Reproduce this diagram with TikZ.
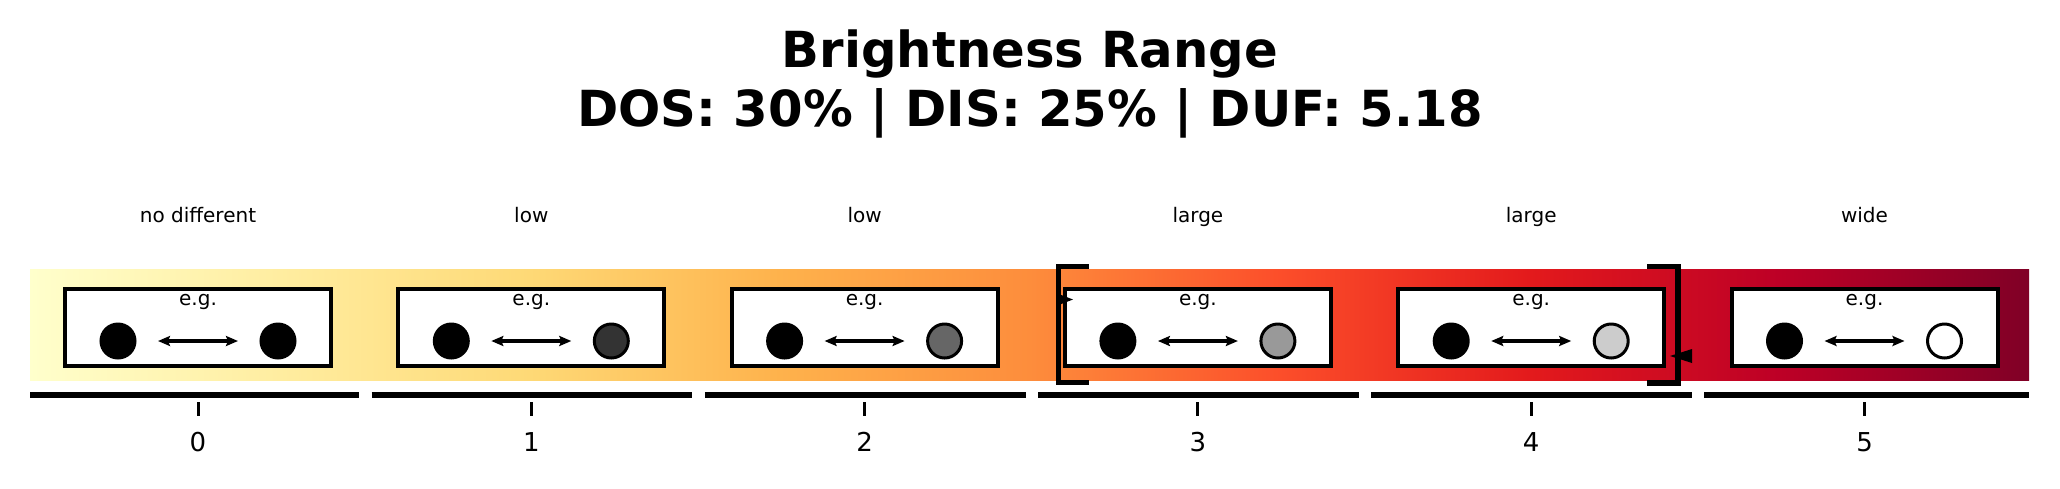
\documentclass[tikz,border=0pt]{standalone}
\usepackage{fontspec}
\setmainfont{DejaVu Sans}
\usepackage{tikz}
\usetikzlibrary{arrows.meta, positioning}
\definecolor{yl0}{HTML}{FFFFCC}
\definecolor{yl1}{HTML}{FFEDA0}
\definecolor{yl2}{HTML}{FED976}
\definecolor{yl3}{HTML}{FEB24C}
\definecolor{yl4}{HTML}{FD8D3C}
\definecolor{yl5}{HTML}{FC4E2A}
\definecolor{yl6}{HTML}{E31A1C}
\definecolor{yl7}{HTML}{BD0026}
\definecolor{yl8}{HTML}{800026}
\pgfdeclarehorizontalshading{ylorrd}{100bp}{color(0bp)=(yl0); color(25bp)=(yl0);
  color(31.25bp)=(yl1); color(37.5bp)=(yl2); color(43.75bp)=(yl3); color(50bp)=(yl4);
  color(56.25bp)=(yl5); color(62.5bp)=(yl6); color(68.75bp)=(yl7); color(75bp)=(yl8);
  color(100bp)=(yl8)}

\begin{document}
\begin{tikzpicture}[
  x=1pt, y=-1pt,
  ttl/.style={font=\bfseries\fontsize{49.7}{59.6}\selectfont, anchor=base},
  cat/.style={font=\fontsize{20}{24}\selectfont, anchor=base},
  num/.style={font=\fontsize{26}{31}\selectfont, anchor=base},
  demo/.style={draw, line width=4pt, fill=white, minimum width=266pt,
               minimum height=77pt, inner sep=0pt},
  dot/.style={circle, draw, line width=3pt, minimum size=34pt, inner sep=0pt},
  arr/.style={{Stealth[length=12pt, width=10pt, inset=2pt]}-{Stealth[length=12pt, width=10pt, inset=2pt]},
              line width=3.5pt, shorten <=21.5pt, shorten >=21.5pt},
  seg/.style={line width=6pt},
  tck/.style={line width=3pt},
  brk/.style={line width=5.5pt},
]
\path[fill=white] (0,0) rectangle (2060,488);
\node[ttl] (title) at (1030,67) {Brightness Range};
\node[ttl] (stats) at (1030,126) {DOS: 30\% | DIS: 25\% | DUF: 5.18};
\shade[shading=ylorrd] (30,269) rectangle (2029,380);
\foreach \i/\lab/\fillc in {0/no different/black, 1/low/black!80, 2/low/black!60,
                            3/large/black!40, 4/large/black!20, 5/wide/white} {
  \pgfmathsetmacro\cx{198+333.3*\i}
  \pgfmathsetmacro\xa{30+333.17*\i+8.5*(\i>0)}
  \pgfmathsetmacro\xb{30+333.17*(\i+1)-4*(\i<5)}
  \node[cat] (cat\i) at (\cx,222.7) {\lab};
  \node[demo] (demo\i) at (\cx,327.5) {};
  \node[cat] (eg\i) at (\cx,305) {e.g.};
  \node[dot, fill=black] (l\i) at (\cx-80,341) {};
  \node[dot, fill=\fillc] (r\i) at (\cx+80,341) {};
  \draw[arr] (l\i) -- (r\i);
  \draw[seg] (\xa,394.5) -- (\xb,394.5);
  \draw[tck] (\cx,402.3) -- (\cx,415.7);
  \node[num] (n\i) at (\cx,451.7) {\i};
}
\draw[brk] (1089,266.7) -| (1058.3,382.5) -- (1089,382.5);
\draw[brk] (1647,266.7) -| (1678,383.2) -- (1647,383.2);
\fill (1073,299.5) -- (1056,293) -- (1056,306) -- cycle;
\fill (1670,356) -- (1692,349) -- (1692,363) -- cycle;
\end{tikzpicture}
\end{document}
